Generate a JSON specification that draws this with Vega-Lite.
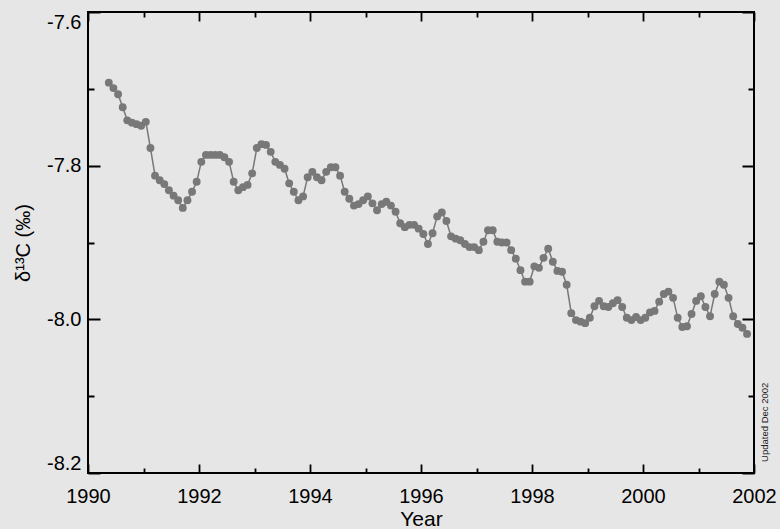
{
  "$schema": "https://vega.github.io/schema/vega-lite/v6.json",
  "width": 666,
  "height": 461,
  "autosize": {"type": "none"},
  "padding": {"left": 88, "top": 12, "right": 26, "bottom": 56},
  "background": "#e6e6e6",
  "config": {
    "view": {"stroke": "black", "strokeWidth": 2},
    "font": "Liberation Sans"
  },
  "data": {"values": [
    {"t": 1990.375, "v": -7.692}, {"t": 1990.458, "v": -7.699}, {"t": 1990.542, "v": -7.707}, {"t": 1990.625, "v": -7.724},
    {"t": 1990.708, "v": -7.741}, {"t": 1990.792, "v": -7.744}, {"t": 1990.875, "v": -7.746}, {"t": 1990.958, "v": -7.748},
    {"t": 1991.042, "v": -7.743}, {"t": 1991.125, "v": -7.777}, {"t": 1991.208, "v": -7.813}, {"t": 1991.292, "v": -7.819},
    {"t": 1991.375, "v": -7.824}, {"t": 1991.458, "v": -7.832}, {"t": 1991.542, "v": -7.839}, {"t": 1991.625, "v": -7.845},
    {"t": 1991.708, "v": -7.855}, {"t": 1991.792, "v": -7.845}, {"t": 1991.875, "v": -7.834}, {"t": 1991.958, "v": -7.821},
    {"t": 1992.042, "v": -7.795}, {"t": 1992.125, "v": -7.786}, {"t": 1992.208, "v": -7.786}, {"t": 1992.292, "v": -7.786},
    {"t": 1992.375, "v": -7.786}, {"t": 1992.458, "v": -7.789}, {"t": 1992.542, "v": -7.795}, {"t": 1992.625, "v": -7.821},
    {"t": 1992.708, "v": -7.832}, {"t": 1992.792, "v": -7.828}, {"t": 1992.875, "v": -7.825}, {"t": 1992.958, "v": -7.810},
    {"t": 1993.042, "v": -7.777}, {"t": 1993.125, "v": -7.772}, {"t": 1993.208, "v": -7.773}, {"t": 1993.292, "v": -7.782},
    {"t": 1993.375, "v": -7.795}, {"t": 1993.458, "v": -7.799}, {"t": 1993.542, "v": -7.804}, {"t": 1993.625, "v": -7.823},
    {"t": 1993.708, "v": -7.834}, {"t": 1993.792, "v": -7.845}, {"t": 1993.875, "v": -7.840}, {"t": 1993.958, "v": -7.815},
    {"t": 1994.042, "v": -7.808}, {"t": 1994.125, "v": -7.815}, {"t": 1994.208, "v": -7.819}, {"t": 1994.292, "v": -7.808},
    {"t": 1994.375, "v": -7.802}, {"t": 1994.458, "v": -7.802}, {"t": 1994.542, "v": -7.813}, {"t": 1994.625, "v": -7.834},
    {"t": 1994.708, "v": -7.843}, {"t": 1994.792, "v": -7.852}, {"t": 1994.875, "v": -7.850}, {"t": 1994.958, "v": -7.845},
    {"t": 1995.042, "v": -7.840}, {"t": 1995.125, "v": -7.849}, {"t": 1995.208, "v": -7.858}, {"t": 1995.292, "v": -7.850},
    {"t": 1995.375, "v": -7.847}, {"t": 1995.458, "v": -7.852}, {"t": 1995.542, "v": -7.860}, {"t": 1995.625, "v": -7.875},
    {"t": 1995.708, "v": -7.880}, {"t": 1995.792, "v": -7.877}, {"t": 1995.875, "v": -7.877}, {"t": 1995.958, "v": -7.882},
    {"t": 1996.042, "v": -7.889}, {"t": 1996.125, "v": -7.902}, {"t": 1996.208, "v": -7.888}, {"t": 1996.292, "v": -7.866},
    {"t": 1996.375, "v": -7.861}, {"t": 1996.458, "v": -7.872}, {"t": 1996.542, "v": -7.892}, {"t": 1996.625, "v": -7.895},
    {"t": 1996.708, "v": -7.897}, {"t": 1996.792, "v": -7.902}, {"t": 1996.875, "v": -7.906}, {"t": 1996.958, "v": -7.906},
    {"t": 1997.042, "v": -7.910}, {"t": 1997.125, "v": -7.899}, {"t": 1997.208, "v": -7.884}, {"t": 1997.292, "v": -7.884},
    {"t": 1997.375, "v": -7.899}, {"t": 1997.458, "v": -7.900}, {"t": 1997.542, "v": -7.900}, {"t": 1997.625, "v": -7.910},
    {"t": 1997.708, "v": -7.921}, {"t": 1997.792, "v": -7.936}, {"t": 1997.875, "v": -7.951}, {"t": 1997.958, "v": -7.951},
    {"t": 1998.042, "v": -7.931}, {"t": 1998.125, "v": -7.933}, {"t": 1998.208, "v": -7.920}, {"t": 1998.292, "v": -7.908},
    {"t": 1998.375, "v": -7.925}, {"t": 1998.458, "v": -7.937}, {"t": 1998.542, "v": -7.938}, {"t": 1998.625, "v": -7.955},
    {"t": 1998.708, "v": -7.992}, {"t": 1998.792, "v": -8.001}, {"t": 1998.875, "v": -8.003}, {"t": 1998.958, "v": -8.005},
    {"t": 1999.042, "v": -7.998}, {"t": 1999.125, "v": -7.983}, {"t": 1999.208, "v": -7.976}, {"t": 1999.292, "v": -7.983},
    {"t": 1999.375, "v": -7.984}, {"t": 1999.458, "v": -7.979}, {"t": 1999.542, "v": -7.975}, {"t": 1999.625, "v": -7.984},
    {"t": 1999.708, "v": -7.998}, {"t": 1999.792, "v": -8.001}, {"t": 1999.875, "v": -7.997}, {"t": 1999.958, "v": -8.001},
    {"t": 2000.042, "v": -7.998}, {"t": 2000.125, "v": -7.991}, {"t": 2000.208, "v": -7.989}, {"t": 2000.292, "v": -7.977},
    {"t": 2000.375, "v": -7.967}, {"t": 2000.458, "v": -7.964}, {"t": 2000.542, "v": -7.972}, {"t": 2000.625, "v": -7.998},
    {"t": 2000.708, "v": -8.010}, {"t": 2000.792, "v": -8.009}, {"t": 2000.875, "v": -7.993}, {"t": 2000.958, "v": -7.976},
    {"t": 2001.042, "v": -7.970}, {"t": 2001.125, "v": -7.984}, {"t": 2001.208, "v": -7.996}, {"t": 2001.292, "v": -7.967},
    {"t": 2001.375, "v": -7.951}, {"t": 2001.458, "v": -7.955}, {"t": 2001.542, "v": -7.972}, {"t": 2001.625, "v": -7.996},
    {"t": 2001.708, "v": -8.006}, {"t": 2001.792, "v": -8.011}, {"t": 2001.875, "v": -8.019}
  ]},
  "layer": [
    {
      "mark": {"type": "line", "color": "#787878", "strokeWidth": 1.5},
      "encoding": {
        "x": {
          "field": "t", "type": "quantitative",
          "scale": {"domain": [1990, 2002], "nice": false, "zero": false},
          "axis": {
            "values": [1990, 1990.5, 1991, 1991.5, 1992, 1992.5, 1993, 1993.5, 1994, 1994.5, 1995, 1995.5, 1996, 1996.5, 1997, 1997.5, 1998, 1998.5, 1999, 1999.5, 2000, 2000.5, 2001, 2001.5, 2002],
            "grid": true, "gridColor": "black", "gridOpacity": 1, "gridWidth": 1.8,
            "gridDash": {"condition": {"test": "datum.value % 2 === 0", "value": [9, 443]}, "value": [5, 451]},
            "ticks": false, "domain": false,
            "labelExpr": "datum.value % 2 === 0 ? format(datum.value, 'd') : ''",
            "labelOverlap": false, "labelFlush": false, "labelFont": "Liberation Sans", "labelFontSize": 20, "labelColor": "black", "labelPadding": 13,
            "title": "Year", "titleFont": "Liberation Sans", "titleFontSize": 21, "titleFontWeight": "normal", "titleColor": "black", "titlePadding": 2
          }
        },
        "y": {
          "field": "v", "type": "quantitative",
          "scale": {"domain": [-8.2, -7.6], "nice": false, "zero": false},
          "axis": {
            "values": [-8.2, -8.15, -8.1, -8.05, -8.0, -7.95, -7.9, -7.85, -7.8, -7.75, -7.7, -7.65, -7.6],
            "grid": true, "gridColor": "black", "gridOpacity": 1, "gridWidth": 1.8,
            "gridDash": {"condition": {"test": "abs(round(datum.value * 100)) % 20 === 0", "value": [12, 642]}, "value": [6, 654]},
            "ticks": false, "domain": false,
            "labelExpr": "abs(round(datum.value * 100)) % 20 === 0 ? replace(format(datum.value, '.1f'), '\u2212', '-') : ''",
            "labelOverlap": false, "labelFlush": true, "labelFont": "Liberation Sans", "labelFontSize": 20, "labelColor": "black", "labelPadding": 7,
            "title": "δ¹³C (‰)", "titleFont": "Liberation Sans", "titleFontSize": 20, "titleFontWeight": "normal", "titleColor": "black", "titlePadding": 13
          }
        }
      }
    },
    {
      "mark": {"type": "point", "filled": true, "color": "#787878", "opacity": 1, "size": 62},
      "encoding": {
        "x": {"field": "t", "type": "quantitative"},
        "y": {"field": "v", "type": "quantitative"}
      }
    },
    {
      "data": {"values": [{}]},
      "mark": {"type": "text", "text": "Updated Dec 2002", "angle": 270, "font": "Liberation Sans", "fontSize": 9.5, "color": "#222", "align": "center", "baseline": "middle"},
      "encoding": {
        "x": {"datum": 2002.2, "type": "quantitative"},
        "y": {"datum": -8.134, "type": "quantitative"}
      }
    }
  ]
}
